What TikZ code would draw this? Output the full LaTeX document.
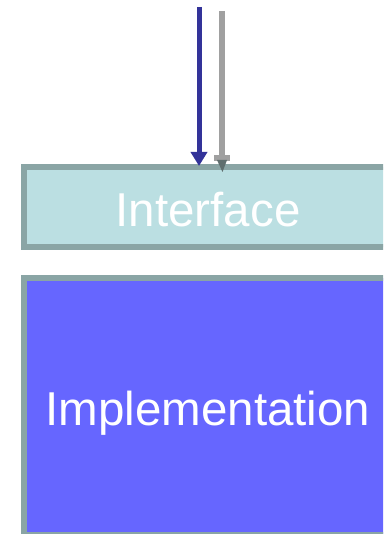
\documentclass[tikz,border=0pt]{standalone}
\usepackage{fontspec}
\setmainfont{Liberation Sans}
\usetikzlibrary{arrows.meta}
\definecolor{boxedge}{HTML}{8AA5A5}
\definecolor{ifill}{HTML}{BBDFE2}
\definecolor{implfill}{HTML}{6666FF}
\definecolor{bluearrow}{HTML}{333399}
\definecolor{grayarrow}{HTML}{A0A0A0}
\definecolor{graytip}{HTML}{5F6E6E}
\tikzset{
  layerbox/.style={draw=boxedge, line width=5.5pt},
  boxlabel/.style={text=white, font=\fontsize{47.5}{52}\selectfont, anchor=base},
}
\begin{document}
\begin{tikzpicture}[x=1pt,y=-1pt]
\useasboundingbox (0,0) rectangle (383,534);
\begin{scope}
\clip (0,0) rectangle (383,534);
% Interface box
\draw[layerbox, fill=ifill] (24,167) rectangle (420,247);
\coordinate (ifc) at (208,226);
\node[boxlabel] (iflabel) at (ifc) {Interface};
% Implementation box
\draw[layerbox, fill=implfill] (24,278) rectangle (420,534.5);
\node[boxlabel] (impllabel) at (208,425) {Implementation};
% arrows
\coordinate (bstart) at (199,7);
\coordinate (bend) at (199,166);
\draw[bluearrow, line width=5pt, -{Triangle[width=16pt,length=14pt]}] (bstart) -- (bend);
\coordinate (gstart) at (222,11);
\coordinate (gend) at (222,156);
\draw[grayarrow, line width=6pt] (gstart) -- (gend);
\fill[grayarrow] (214,155) rectangle (230,161);
\fill[graytip] (217,160) -- (227,160) -- (222.5,172) -- cycle;
\end{scope}
\end{tikzpicture}
\end{document}
